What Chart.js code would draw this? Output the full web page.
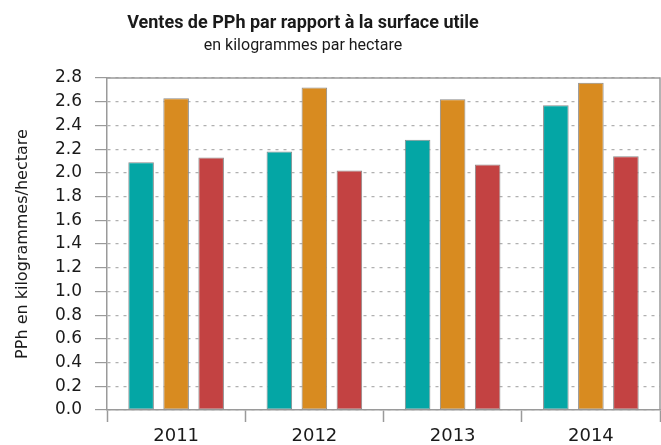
<!DOCTYPE html>
<html>
<head>
<meta charset="utf-8">
<script src="https://cdn.jsdelivr.net/npm/chart.js@4"></script>
<style>
  body { margin: 0; background: #fff; }
  #wrap { position: relative; width: 661px; height: 445px; }
  #title, #subtitle {
    position: absolute; left: 0; width: 606px; text-align: center;
    font-family: Roboto, sans-serif; color: #1a1a1a; line-height: 1; white-space: nowrap;
  }
  #title { top: 13px; font-size: 18px; font-weight: bold; }
  #subtitle { top: 37px; font-size: 16px; }
  canvas { position: absolute; left: 0; top: 0; }
</style>
</head>
<body>
<div id="wrap">
  <canvas id="chart" width="661" height="445"></canvas>
  <div id="title">Ventes de PPh par rapport à la surface utile</div>
  <div id="subtitle">en kilogrammes par hectare</div>
</div>
<script>
// données
const years = ['2011', '2012', '2013', '2014'];
const serieA = [2.09, 2.18, 2.28, 2.57];
const serieB = [2.63, 2.72, 2.62, 2.76];
const serieC = [2.13, 2.02, 2.07, 2.14];
const yTitle = 'PPh en kilogrammes/hectare';

const fontFamily = '"DejaVu Sans", sans-serif';
const axisGray = '#9a9a9a';

// cadre plein en haut et à droite
const framePlugin = {
  id: 'frame',
  afterDraw(chart) {
    const { ctx, chartArea: a } = chart;
    ctx.save();
    ctx.strokeStyle = axisGray;
    ctx.lineWidth = 1.5;
    ctx.beginPath();
    ctx.moveTo(a.left, a.top);
    ctx.lineTo(a.right, a.top);
    ctx.lineTo(a.right, a.bottom);
    ctx.stroke();
    ctx.restore();
  }
};

const ctx = document.getElementById('chart').getContext('2d');
new Chart(ctx, {
  type: 'bar',
  data: {
    labels: years,
    datasets: [
      { label: 'Série A', data: serieA, backgroundColor: '#04a6a5' },
      { label: 'Série B', data: serieB, backgroundColor: '#d88b20' },
      { label: 'Série C', data: serieC, backgroundColor: '#c34242' }
    ].map(d => Object.assign(d, { borderColor: '#8a8a8a', borderWidth: 1, borderSkipped: false }))
  },
  options: {
    responsive: false,
    animation: false,
    layout: { padding: { top: 78, right: 1, left: 0, bottom: 0 } },
    categoryPercentage: 0.76,
    barPercentage: 0.73,
    plugins: {
      legend: { display: false },
      tooltip: { enabled: false }
    },
    scales: {
      x: {
        afterFit: s => { s.height = 35; },
        border: { color: axisGray, width: 1.5 },
        grid: { offset: true, drawOnChartArea: false, tickLength: 12, tickColor: axisGray, tickWidth: 1.5 },
        ticks: { color: '#1a1a1a', font: { family: fontFamily, size: 18 }, padding: 4 }
      },
      y: {
        min: 0,
        max: 2.8,
        afterFit: s => { s.width = 107; },
        border: { color: axisGray, width: 1.5, dash: [3, 5] },
        grid: {
          color: '#b0b0b0',
          lineWidth: 1.2,
          tickLength: 12,
          tickColor: axisGray,
          tickBorderDash: [],
          tickWidth: 1.2
        },
        ticks: {
          stepSize: 0.2,
          padding: 13,
          color: '#1a1a1a',
          font: { family: fontFamily, size: 17 },
          callback: v => v.toFixed(1)
        },
        title: {
          display: true,
          text: yTitle,
          color: '#1a1a1a',
          font: { family: fontFamily, size: 16 },
          padding: { top: 13, bottom: 0 }
        }
      }
    }
  },
  plugins: [framePlugin]
});
</script>
</body>
</html>
